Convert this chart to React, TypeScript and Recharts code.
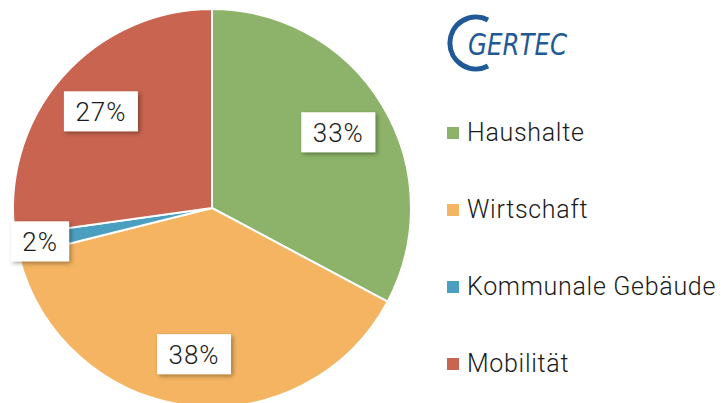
import { PieChart, Pie, Cell } from 'recharts'

document.body.style.margin = '0'

const sectors = ['Haushalte', 'Wirtschaft', 'Kommunale Gebäude', 'Mobilität']
const shares = [32.8, 38.3, 1.7, 27.2]
const colors = ['#8CB369', '#F4B462', '#4A9FC0', '#C8644F']

const data = sectors.map((name, i) => ({ name, value: shares[i] }))

const RAD = Math.PI / 180
const FONT = 'Roboto, "Liberation Sans", sans-serif'

function renderLabel(props: any) {
  const { cx, cy, midAngle, outerRadius, percent } = props
  const r = percent < 0.05 ? outerRadius * 0.88 : outerRadius * 0.74
  const x = cx + r * Math.cos(-midAngle * RAD)
  const y = cy + r * Math.sin(-midAngle * RAD)
  const txt = `${Math.round(percent * 100)}%`
  const w = txt.length * 16 + 26
  const h = 40
  return (
    <g>
      <rect x={x - w / 2} y={y - h / 2} width={w} height={h} fill="#ffffff" filter="url(#lblShadow)" />
      <text
        x={x}
        y={y + 1}
        textAnchor="middle"
        dominantBaseline="central"
        fontFamily={FONT}
        fontWeight={300}
        fontSize={26}
        fill="#1a1a1a"
        letterSpacing={1}
      >
        {txt}
      </text>
    </g>
  )
}

function LegendList() {
  return (
    <div style={{ position: 'absolute', left: 447, top: 94, fontFamily: FONT, fontWeight: 300 }}>
      {sectors.map((s, i) => (
        <div key={s} style={{ display: 'flex', alignItems: 'center', height: 77 }}>
          <span style={{ width: 12, height: 12, background: colors[i], marginRight: 8 }} />
          <span style={{ fontSize: 25, letterSpacing: 0.7, color: '#1a1a1a', whiteSpace: 'nowrap' }}>{s}</span>
        </div>
      ))}
    </div>
  )
}

function Logo() {
  return (
    <svg width={180} height={80} style={{ position: 'absolute', left: 430, top: 0 }}>
      <path
        d="M 58 20 A 26 26 0 1 0 58 66"
        fill="none"
        stroke="#1F5A96"
        strokeWidth={5}
      />
      <text
        x={38}
        y={55}
        fontFamily='"Liberation Sans Narrow", "DejaVu Sans Condensed", sans-serif'
        fontStyle="italic"
        fontSize={30}
        fill="#1F5A96"
        textLength={99}
        lengthAdjust="spacingAndGlyphs"
      >
        GERTEC
      </text>
    </svg>
  )
}

export default function App() {
  return (
    <div style={{ position: 'relative', width: 724, height: 403, background: '#ffffff', overflow: 'hidden' }}>
      <PieChart width={724} height={403} margin={{ top: 0, right: 0, bottom: 0, left: 0 }}>
        <defs>
          <filter id="lblShadow" x="-30%" y="-30%" width="160%" height="160%">
            <feDropShadow dx={2} dy={2} stdDeviation={2} floodColor="#000" floodOpacity={0.35} />
          </filter>
        </defs>
        <Pie
          data={data}
          dataKey="value"
          nameKey="name"
          cx={212}
          cy={208}
          outerRadius={199}
          startAngle={90}
          endAngle={-270}
          stroke="#ffffff"
          strokeWidth={2}
          label={renderLabel}
          labelLine={false}
          isAnimationActive={false}
        >
          {data.map((d, i) => (
            <Cell key={d.name} fill={colors[i]} />
          ))}
        </Pie>
      </PieChart>
      <LegendList />
      <Logo />
    </div>
  )
}
